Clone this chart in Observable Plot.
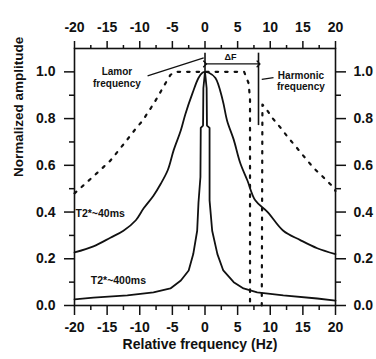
<!DOCTYPE html>
<html>
<head>
<meta charset="utf-8">
<script src="https://cdn.jsdelivr.net/npm/d3@7"></script>
<script src="https://cdn.jsdelivr.net/npm/@observablehq/plot@0.6"></script>
<style>
  html, body { margin: 0; padding: 0; background: #fff; }
</style>
</head>
<body>
<div id="chart"></div>
<script>
// ---- tick labels ----
const xTicks = [-20, -15, -10, -5, 0, 5, 10, 15, 20];
const xMinor = [-17.5, -12.5, -7.5, -2.5, 2.5, 7.5, 12.5, 17.5];
const yTicks = [0, 0.2, 0.4, 0.6, 0.8, 1.0];
const yMinor = [0.1, 0.3, 0.5, 0.7, 0.9];

// ---- T2*~40ms (broad solid) ----
const broadX = [-20, -17.1, -14.5, -12.5, -10.6, -9.4, -7.9, -6.8, -5.7, -4.8, -3.7, -3.0, -1.9, -1.0, -0.4, 0, 0.6, 1.6, 2.7, 3.4, 4.4, 5.4, 6.5, 7.7, 9.6, 12.0, 14.6, 17.2, 20];
const broadY = [0.227, 0.253, 0.29, 0.32, 0.365, 0.416, 0.47, 0.52, 0.58, 0.665, 0.75, 0.82, 0.91, 0.974, 0.996, 1.0, 0.996, 0.974, 0.88, 0.79, 0.71, 0.61, 0.535, 0.45, 0.40, 0.32, 0.28, 0.245, 0.22];

// ---- T2*~400ms (narrow solid) ----
const narrowX = [-20, -17.1, -11.9, -7.9, -5.3, -3.7, -2.5, -1.8, -1.2, -1.0, -0.7, -0.65, -0.3, -0.25, 0, 0.25, 0.3, 0.7, 0.7, 1.1, 1.9, 2.8, 4.4, 5.9, 8.0, 12.0, 17.2, 20];
const narrowY = [0.026, 0.034, 0.043, 0.056, 0.073, 0.107, 0.15, 0.22, 0.32, 0.44, 0.55, 0.76, 0.77, 0.93, 1.0, 0.93, 0.77, 0.76, 0.45, 0.32, 0.22, 0.15, 0.10, 0.073, 0.056, 0.043, 0.03, 0.021];

// ---- excitation profile (dashed), Larmor side ----
const exciteX = [-20, -17.4, -14.5, -12.2, -10.8, -9.6, -8.3, -7.3, -6.4, -5.3, -4.5, 6.0, 6.7, 6.9, 6.9];
const exciteY = [0.48, 0.545, 0.62, 0.70, 0.75, 0.79, 0.845, 0.89, 0.935, 0.987, 1.0, 1.0, 0.95, 0.88, 0];

// ---- excitation profile (dashed), harmonic side ----
const harmX = [8.7, 8.8, 9.3, 10.4, 11.6, 12.8, 14.1, 15.4, 16.6, 18.1, 19.7, 20];
const harmY = [0, 0.86, 0.845, 0.80, 0.76, 0.717, 0.674, 0.63, 0.59, 0.55, 0.506, 0.49];

// ---- annotation values (data units) ----
const larmorFreq = 0;
const harmonicFreq = 8.2;
const markerTop = 1.08;
const harmonicLineBottom = 0.77;
const peakValue = 1.0;
const deltaFLevel = 1.034;
const centerLabels = [
  {text: "Lamor\nfrequency", x: -13.5, y: 0.976, size: 10},
  {text: "Harmonic\nfrequency", x: 14.7, y: 0.961, size: 10},
  {text: "ΔF", x: 3.9, y: 1.064, size: 9}
];
const curveLabels = [
  {text: "T2*~40ms", x: -19.85, y: 0.395},
  {text: "T2*~400ms", x: -17.5, y: 0.107}
];
const larmorLeader = [{x1: -8.8, y1: 0.983, x2: -0.2, y2: 1.06}];
const harmonicLeader = [{x1: 8.7, y1: 0.968, x2: 10.5, y2: 0.975}];

const toPts = (xs, ys) => xs.map((x, i) => ({x, y: ys[i]}));
const broad = toPts(broadX, broadY);
const narrow = toPts(narrowX, narrowY);
const excite = toPts(exciteX, exciteY);
const harm = toPts(harmX, harmY);

const fmtX = d => String(d);
const fmtY = d3.format(".1f");
const blank = () => "";

const chart = Plot.plot({
  width: 376,
  height: 359,
  marginTop: 48,
  marginBottom: 54,
  marginLeft: 74,
  marginRight: 41,
  style: {fontFamily: "'Liberation Sans', Arial, sans-serif", fontWeight: "bold", fontSize: "14px", color: "#111", background: "#fff"},
  x: {domain: [-20, 20]},
  y: {domain: [0, 1.1]},
  marks: [
    // axes - major
    Plot.axisX(xTicks, {anchor: "bottom", tickSize: 10, tickPadding: 7, tickFormat: fmtX, label: null, strokeWidth: 1.5}),
    Plot.axisX(xTicks, {anchor: "top", tickSize: 8, tickPadding: 9, tickFormat: fmtX, label: null, strokeWidth: 1.5}),
    Plot.axisY(yTicks, {anchor: "left", tickSize: 10, tickPadding: 9, tickFormat: fmtY, label: null, strokeWidth: 1.5}),
    Plot.axisY(yTicks, {anchor: "right", tickSize: 10, tickPadding: 8, tickFormat: fmtY, label: null, strokeWidth: 1.5}),
    // axes - minor
    Plot.axisX(xMinor, {anchor: "bottom", tickSize: 5, tickFormat: blank, label: null, strokeWidth: 1.5}),
    Plot.axisX(xMinor, {anchor: "top", tickSize: 4, tickFormat: blank, label: null, strokeWidth: 1.5}),
    Plot.axisY(yMinor, {anchor: "left", tickSize: 5, tickFormat: blank, label: null, strokeWidth: 1.5}),
    Plot.axisY(yMinor, {anchor: "right", tickSize: 5, tickFormat: blank, label: null, strokeWidth: 1.5}),
    Plot.frame({stroke: "#111", strokeWidth: 1.6}),
    // curves
    Plot.line(excite, {x: "x", y: "y", stroke: "#111", strokeWidth: 2.2, strokeDasharray: "2.5,7"}),
    Plot.line(harm, {x: "x", y: "y", stroke: "#111", strokeWidth: 2.2, strokeDasharray: "2.5,7"}),
    Plot.line(broad, {x: "x", y: "y", stroke: "#111", strokeWidth: 1.8, curve: "catmull-rom"}),
    Plot.line(narrow, {x: "x", y: "y", stroke: "#111", strokeWidth: 1.8}),
    // markers
    Plot.ruleX([larmorFreq], {y1: peakValue, y2: markerTop, stroke: "#111", strokeWidth: 1.6}),
    Plot.ruleX([harmonicFreq], {y1: harmonicLineBottom, y2: markerTop, stroke: "#111", strokeWidth: 1.6}),
    Plot.link([{x1: larmorFreq, x2: harmonicFreq, y: deltaFLevel}], {x1: "x1", x2: "x2", y1: "y", y2: "y", stroke: "#111", strokeWidth: 1.4, markerStart: "arrow", markerEnd: "arrow"}),
    Plot.link(larmorLeader, {x1: "x1", y1: "y1", x2: "x2", y2: "y2", stroke: "#111", strokeWidth: 1.2}),
    Plot.link(harmonicLeader, {x1: "x1", y1: "y1", x2: "x2", y2: "y2", stroke: "#111", strokeWidth: 1.2}),
    // labels
    Plot.text(centerLabels, {x: "x", y: "y", text: "text", textAnchor: "middle", fontSize: "size", fontWeight: "bold", lineHeight: 1.15, fill: "#111"}),
    Plot.text(curveLabels, {x: "x", y: "y", text: "text", textAnchor: "start", fontSize: 10.5, fontWeight: "bold", fill: "#111"}),
    // axis titles
    Plot.text(["Relative frequency (Hz)"], {frameAnchor: "bottom", dy: 43, dx: -5, text: d => d, fontSize: 14, fontWeight: "bold", fill: "#111"}),
    Plot.text(["Normalized amplitude"], {frameAnchor: "left", dx: -56, rotate: -90, text: d => d, fontSize: 13.5, fontWeight: "bold", fill: "#111"})
  ]
});
document.getElementById("chart").appendChild(chart);
</script>
</body>
</html>
